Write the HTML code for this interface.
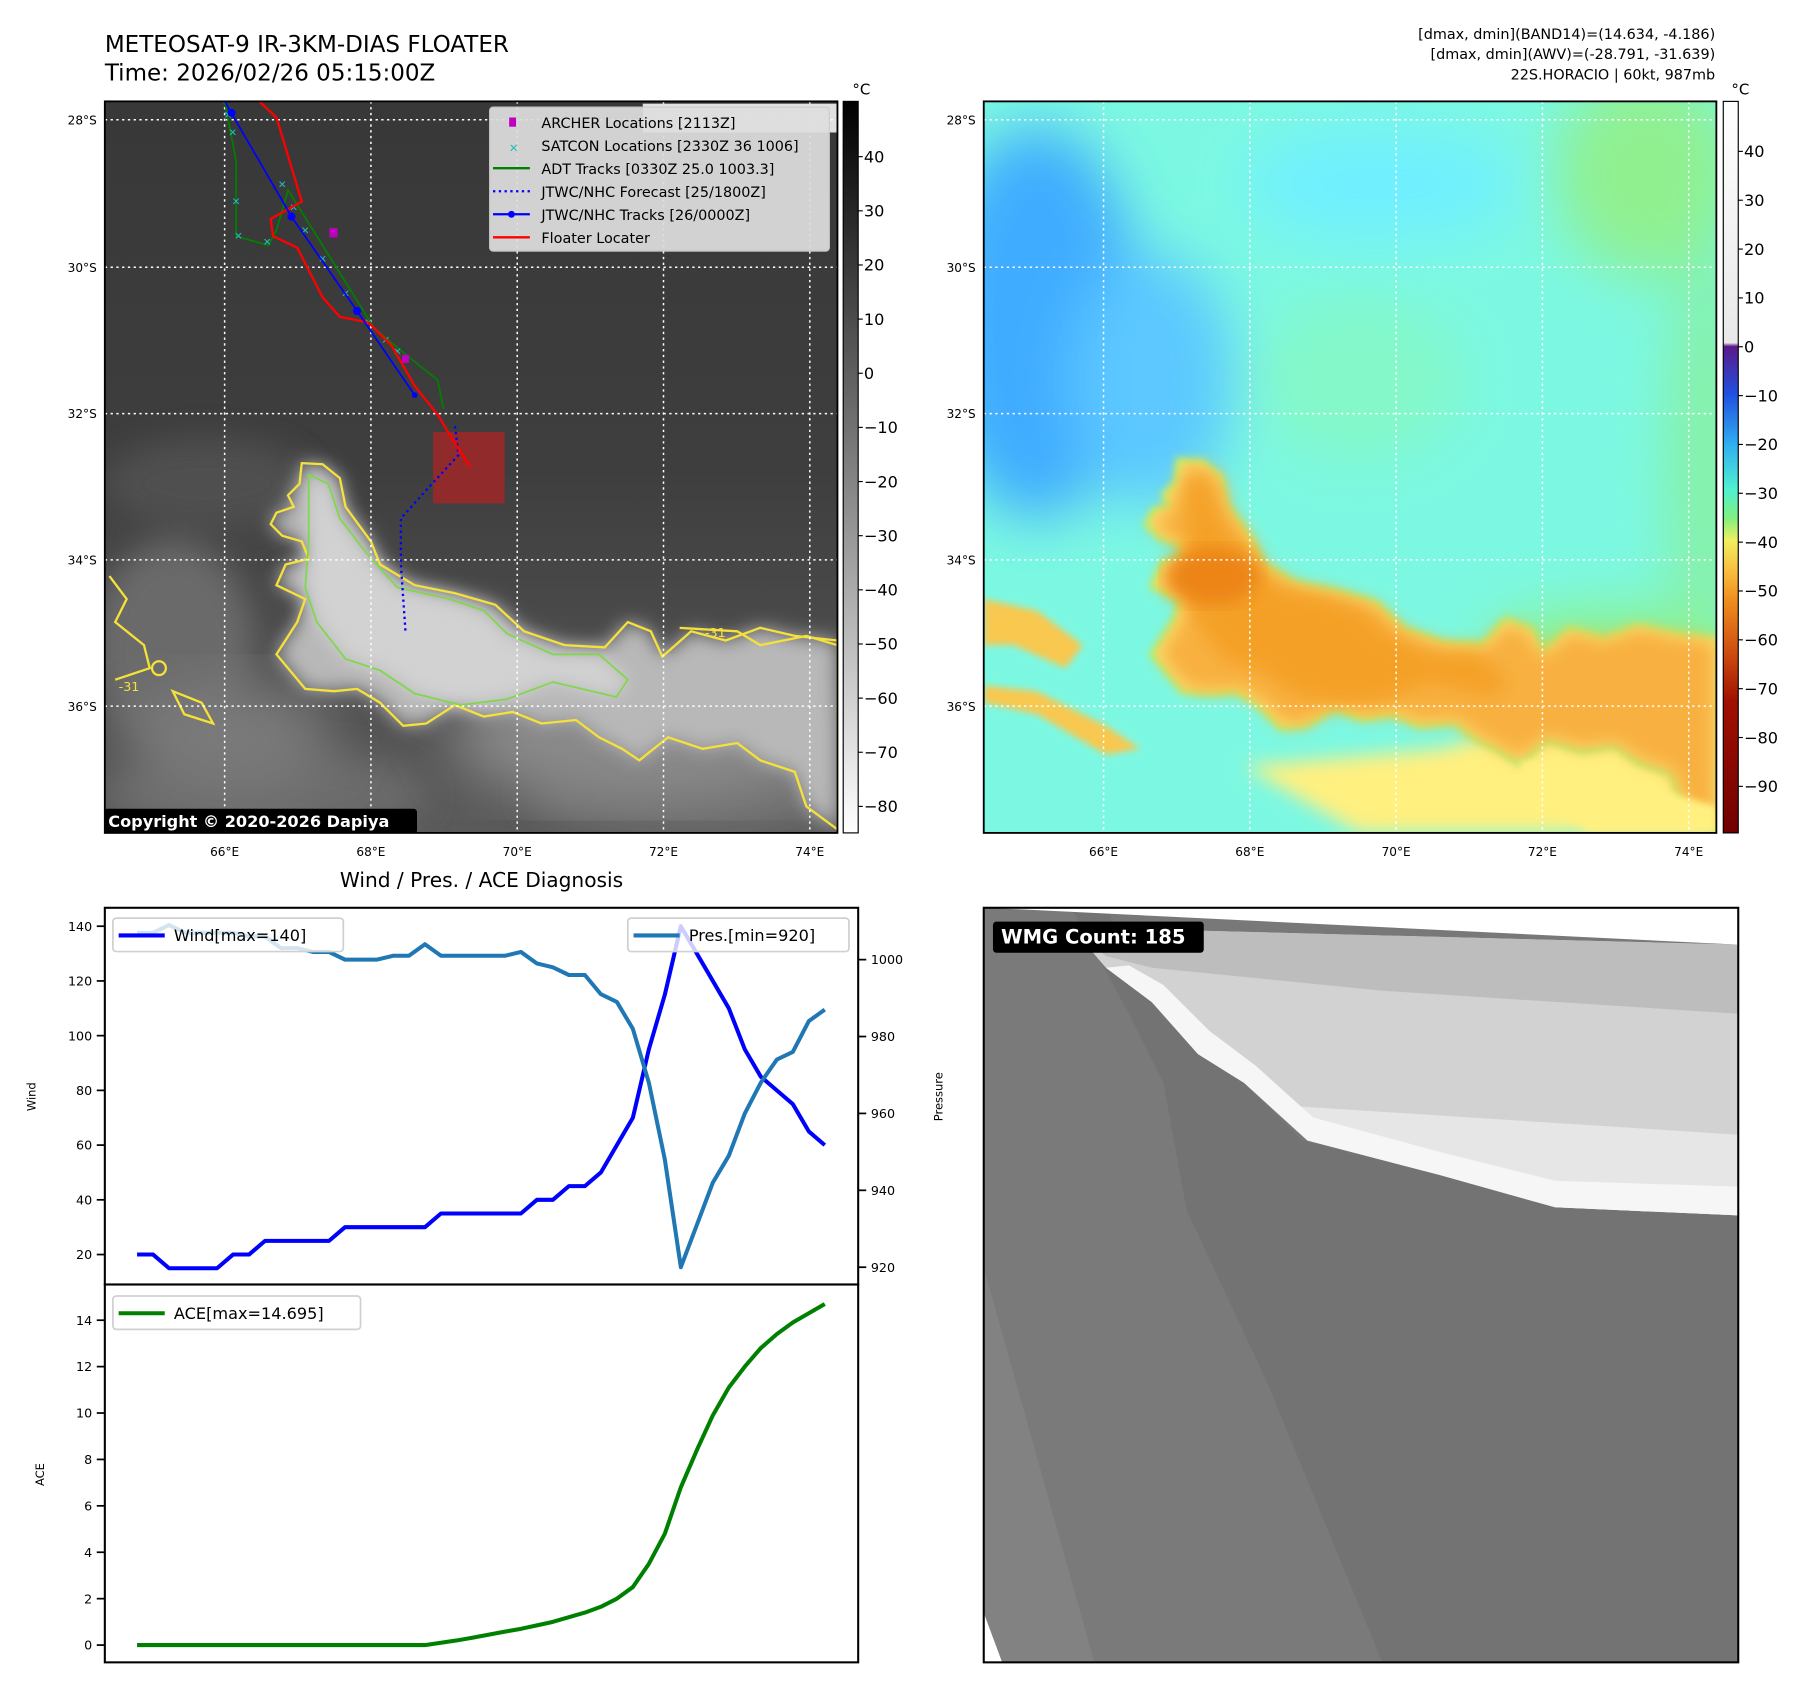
<!DOCTYPE html>
<html><head><meta charset="utf-8"><style>
html,body{margin:0;padding:0;background:#fff;}
svg{display:block;font-family:"DejaVu Sans","Liberation Sans",sans-serif;}
</style></head><body>
<svg id="fig" width="1797" height="1690" viewBox="0 0 1560 1467" preserveAspectRatio="none">
<defs>
<filter id="blur3"><feGaussianBlur stdDeviation="3"/></filter>
<filter id="blur8"><feGaussianBlur stdDeviation="8"/></filter>
<filter id="blur14"><feGaussianBlur stdDeviation="14"/></filter>
<filter id="blur25"><feGaussianBlur stdDeviation="25"/></filter>
<linearGradient id="cb1" x1="0" y1="0" x2="0" y2="1"><stop offset="0" stop-color="#000"/><stop offset="1" stop-color="#fff"/></linearGradient>
<linearGradient id="cb2" x1="0" y1="0" x2="0" y2="1">
<stop offset="0" stop-color="#ffffff"/><stop offset="0.33" stop-color="#e8e8e8"/>
<stop offset="0.335" stop-color="#5a1a8a"/><stop offset="0.40" stop-color="#2050e0"/>
<stop offset="0.47" stop-color="#30b0f0"/><stop offset="0.53" stop-color="#50f0d0"/>
<stop offset="0.57" stop-color="#80f080"/><stop offset="0.60" stop-color="#f0f060"/>
<stop offset="0.64" stop-color="#f8c040"/><stop offset="0.68" stop-color="#f09020"/>
<stop offset="0.75" stop-color="#d05010"/><stop offset="0.82" stop-color="#a01000"/>
<stop offset="1" stop-color="#700000"/></linearGradient>
<linearGradient id="bgL" x1="0" y1="0" x2="0" y2="1"><stop offset="0" stop-color="#383838"/><stop offset="0.5" stop-color="#3e3e3e"/><stop offset="1" stop-color="#5a5a5a"/></linearGradient>
<clipPath id="clipL"><rect x="91" y="88" width="636" height="635"/></clipPath>
<clipPath id="clipR"><rect x="854" y="88" width="636" height="635"/></clipPath>
<clipPath id="clipB"><rect x="854" y="788" width="655" height="655"/></clipPath>
<path id="cloud" d="M262,402 L280,403 L295,415 L300,440 L322,470 L330,490 L360,508 L395,515 L430,525 L455,548 L490,560 L525,562 L545,540 L565,548 L575,570 L600,548 L630,556 L660,545 L690,552 L727,556 L727,720 L700,700 L690,670 L660,660 L640,645 L610,650 L580,640 L555,660 L540,650 L520,640 L500,625 L470,628 L445,618 L420,622 L395,612 L370,628 L350,630 L330,610 L310,598 L290,600 L265,598 L250,580 L240,568 L258,540 L265,520 L240,508 L248,490 L268,485 L262,470 L245,465 L235,455 L240,445 L255,440 L250,430 L260,420 Z"/>
<path id="cloudIn" d="M268,412 L285,420 L295,450 L318,480 L345,510 L390,520 L420,530 L440,550 L480,568 L520,568 L545,590 L535,605 L480,592 L440,607 L400,612 L360,602 L330,582 L300,572 L275,540 L265,510 L268,470 Z"/>
</defs>

<text x="91" y="45" font-size="20">METEOSAT-9 IR-3KM-DIAS FLOATER</text>
<text x="91" y="70" font-size="20">Time: 2026/02/26 05:15:00Z</text>
<g font-size="12.5" text-anchor="end">
<text x="1489" y="34">[dmax, dmin](BAND14)=(14.634, -4.186)</text>
<text x="1489" y="51">[dmax, dmin](AWV)=(-28.791, -31.639)</text>
<text x="1489" y="69">22S.HORACIO | 60kt, 987mb</text>
</g>

<g clip-path="url(#clipL)">
<rect x="91" y="88" width="636" height="635" fill="url(#bgL)"/>
<g filter="url(#blur14)" fill="#6a6a6a">
<ellipse cx="150" cy="560" rx="70" ry="90"/><ellipse cx="230" cy="690" rx="140" ry="40"/><ellipse cx="600" cy="690" rx="140" ry="40"/>
<ellipse cx="180" cy="420" rx="90" ry="40" fill="#505050"/>
</g>
<g filter="url(#blur25)" fill="#8a8a8a">
<ellipse cx="560" cy="640" rx="170" ry="60"/><ellipse cx="200" cy="640" rx="90" ry="50" fill="#7a7a7a"/>
</g>
<use href="#cloud" fill="#b8b8b8" filter="url(#blur8)"/>
<use href="#cloudIn" fill="#d2d2d2" filter="url(#blur8)"/>
<use href="#cloud" fill="none" stroke="#f5e13a" stroke-width="2"/>
<use href="#cloudIn" fill="none" stroke="#7fd84a" stroke-width="1.5"/>
<g fill="none" stroke="#f5e13a" stroke-width="2">
<path d="M95,500 L110,520 L100,540 L125,560 L130,580 L100,590"/>
<path d="M150,600 L175,610 L185,628 L160,620 Z"/>
<circle cx="138" cy="580" r="6"/>
<path d="M590,545 L640,548 L660,560 L700,552 L727,560"/>
</g>
<text x="103" y="600" font-size="11" fill="#f5e13a">-31</text>
<text x="612" y="553" font-size="11" fill="#f5e13a">-31</text>
<g stroke="#fff" stroke-width="1.3" stroke-dasharray="2,3">
<line x1="195" y1="88" x2="195" y2="723"/><line x1="322" y1="88" x2="322" y2="723"/><line x1="449" y1="88" x2="449" y2="723"/><line x1="576" y1="88" x2="576" y2="723"/><line x1="703" y1="88" x2="703" y2="723"/>
<line x1="91" y1="104" x2="727" y2="104"/><line x1="91" y1="232" x2="727" y2="232"/><line x1="91" y1="359" x2="727" y2="359"/><line x1="91" y1="486" x2="727" y2="486"/><line x1="91" y1="613" x2="727" y2="613"/>
</g>
<rect x="376" y="375" width="62" height="62" fill="#a02828" opacity="0.85"/>
<polyline points="395,370 398,395 375,420 348,450 348,490 352,548" fill="none" stroke="#0000ff" stroke-width="2" stroke-dasharray="2,3"/>
<polyline points="195,88 205,140 205,205 233,213 240,200 250,165 325,285 355,310 380,330 385,355" fill="none" stroke="#008000" stroke-width="1.5"/>
<g fill="#1fc0c0" font-size="9" text-anchor="middle">
<text x="198" y="103">✕</text><text x="202" y="118">✕</text><text x="205" y="178">✕</text><text x="207" y="208">✕</text><text x="232" y="213">✕</text><text x="245" y="163">✕</text><text x="255" y="183">✕</text><text x="265" y="203">✕</text><text x="280" y="228">✕</text><text x="300" y="258">✕</text><text x="320" y="283">✕</text><text x="335" y="298">✕</text><text x="345" y="308">✕</text>
</g>
<polyline points="225,88 240,102 262,175 235,190 237,205 258,215 280,258 295,275 320,280 340,300 360,335 380,360 395,385 408,405" fill="none" stroke="#ff0000" stroke-width="2"/>
<polyline points="195,88 253,188 310,270 360,343" fill="none" stroke="#0000ff" stroke-width="1.5"/>
<g fill="#0000ff"><circle cx="201" cy="98" r="3.5"/><circle cx="253" cy="188" r="3.5"/><circle cx="310" cy="270" r="3.5"/><circle cx="360" cy="343" r="2.5"/></g>
<rect x="286" y="198" width="7" height="8" fill="#c000c0"/>
<rect x="349" y="308" width="6" height="7" fill="#c000c0"/>
<rect x="558" y="90" width="169" height="25" fill="#fff" opacity="0.85"/>
<text x="565" y="108" font-size="14" font-weight="bold" fill="#d8d8d8">© EUMETSAT 2026</text>
<g>
<rect x="425" y="93" width="295" height="125" rx="3" fill="#dedede" opacity="0.93" stroke="#ccc"/>
<g font-size="12.5">
<rect x="442" y="102" width="6" height="8" fill="#c000c0"/><text x="470" y="111">ARCHER Locations [2113Z]</text>
<text x="446" y="132" fill="#1fc0c0" font-size="10" text-anchor="middle">✕</text><text x="470" y="131">SATCON Locations [2330Z 36 1006]</text>
<line x1="428" y1="146" x2="460" y2="146" stroke="#008000" stroke-width="2"/><text x="470" y="151">ADT Tracks [0330Z 25.0 1003.3]</text>
<line x1="428" y1="166" x2="460" y2="166" stroke="#0000ff" stroke-width="2" stroke-dasharray="2,3"/><text x="470" y="171">JTWC/NHC Forecast [25/1800Z]</text>
<line x1="428" y1="186" x2="460" y2="186" stroke="#0000ff" stroke-width="2"/><circle cx="444" cy="186" r="3" fill="#0000ff"/><text x="470" y="191">JTWC/NHC Tracks [26/0000Z]</text>
<line x1="428" y1="206" x2="460" y2="206" stroke="#ff0000" stroke-width="2"/><text x="470" y="211">Floater Locater</text>
</g></g>
<rect x="90" y="702" width="272" height="22" rx="3" fill="#000"/>
<text x="94" y="718" font-size="14" font-weight="bold" fill="#fff">Copyright © 2020-2026 Dapiya</text>
</g>
<rect x="91" y="88" width="636" height="635" fill="none" stroke="#000" stroke-width="1.6"/>

<g clip-path="url(#clipR)">
<rect x="854" y="88" width="636" height="635" fill="#7cf8e2"/>
<g filter="url(#blur25)">
<ellipse cx="900" cy="280" rx="90" ry="170" fill="#40acff"/>
<ellipse cx="1000" cy="330" rx="70" ry="110" fill="#5cc8ff"/>
<ellipse cx="1200" cy="160" rx="120" ry="50" fill="#70f0ff"/>
<ellipse cx="1430" cy="150" rx="80" ry="90" fill="#90f090"/>
<ellipse cx="1480" cy="400" rx="30" ry="200" fill="#88f0a0"/>
<ellipse cx="1400" cy="570" rx="110" ry="40" fill="#90f080"/>
<ellipse cx="1180" cy="330" rx="90" ry="70" fill="#84f8c8"/>
</g>
<g filter="url(#blur8)" fill="#fff080">
<polygon points="1080,665 1250,650 1400,610 1490,600 1490,723 1180,723"/>
</g>
<g transform="translate(763,0)">
<use href="#cloud" fill="#a8f080" stroke="#b8f070" stroke-width="10" filter="url(#blur3)"/>
<use href="#cloud" fill="#fce070" filter="url(#blur3)"/>
<use href="#cloud" fill="#f8b040" filter="url(#blur8)" transform="translate(6,6) scale(0.99)"/>
<use href="#cloudIn" fill="#f4a028" filter="url(#blur8)"/>
<ellipse cx="290" cy="500" rx="40" ry="25" fill="#ec8418" filter="url(#blur8)"/>
</g>
<g filter="url(#blur3)" fill="#f8c850">
<path d="M854,520 L900,530 L940,560 L925,580 L880,560 L854,560 Z"/>
<path d="M854,595 L900,600 L960,630 L990,650 L960,655 L900,620 L854,610 Z"/>
<path d="M1320,660 L1420,680 L1490,700 L1490,723 L1380,723 L1330,690 Z" fill="#fff080"/>
</g>
<g stroke="#fff" stroke-width="1.3" stroke-dasharray="2,3">
<line x1="958" y1="88" x2="958" y2="723"/><line x1="1085" y1="88" x2="1085" y2="723"/><line x1="1212" y1="88" x2="1212" y2="723"/><line x1="1339" y1="88" x2="1339" y2="723"/><line x1="1466" y1="88" x2="1466" y2="723"/>
<line x1="854" y1="104" x2="1490" y2="104"/><line x1="854" y1="232" x2="1490" y2="232"/><line x1="854" y1="359" x2="1490" y2="359"/><line x1="854" y1="486" x2="1490" y2="486"/><line x1="854" y1="613" x2="1490" y2="613"/>
</g>
</g>
<rect x="854" y="88" width="636" height="635" fill="none" stroke="#000" stroke-width="1.6"/>

<g font-size="10.5" text-anchor="end">
<text x="84" y="108">28°S</text><text x="84" y="236">30°S</text><text x="84" y="363">32°S</text><text x="84" y="490">34°S</text><text x="84" y="617">36°S</text>
<text x="847" y="108">28°S</text><text x="847" y="236">30°S</text><text x="847" y="363">32°S</text><text x="847" y="490">34°S</text><text x="847" y="617">36°S</text>
</g>
<g font-size="10.5" text-anchor="middle">
<text x="195" y="743">66°E</text><text x="322" y="743">68°E</text><text x="449" y="743">70°E</text><text x="576" y="743">72°E</text><text x="703" y="743">74°E</text>
<text x="958" y="743">66°E</text><text x="1085" y="743">68°E</text><text x="1212" y="743">70°E</text><text x="1339" y="743">72°E</text><text x="1466" y="743">74°E</text>
</g>

<g>
<rect x="732" y="88" width="13" height="635" fill="url(#cb1)" stroke="#000" stroke-width="1"/>
<text x="740" y="82" font-size="13">°C</text>
<g id="cb1ticks" font-size="14"></g>
</g>
<g>
<rect x="1496" y="88" width="13" height="635" fill="url(#cb2)" stroke="#000" stroke-width="1"/>
<text x="1503" y="82" font-size="13">°C</text>
<g id="cb2ticks" font-size="14"></g>
</g>

<text x="418" y="770" font-size="17.5" text-anchor="middle">Wind / Pres. / ACE Diagnosis</text>
<g id="diag"></g>
<rect x="91" y="788" width="654" height="327" fill="none" stroke="#000" stroke-width="1.8"/>
<rect x="91" y="1115" width="654" height="328" fill="none" stroke="#000" stroke-width="1.8"/>
<text transform="translate(31,952) rotate(-90)" font-size="10" text-anchor="middle">Wind</text>
<text transform="translate(818,952) rotate(-90)" font-size="10" text-anchor="middle">Pressure</text>
<text transform="translate(38,1280) rotate(-90)" font-size="10" text-anchor="middle">ACE</text>

<g clip-path="url(#clipB)">
<rect x="854" y="788" width="655" height="655" fill="#787878"/>
<polygon points="854,788 960,788 1000,870 1040,915 1080,940 1130,990 1250,1020 1350,1048 1509,1055 1509,1443 854,1443" fill="#737373"/>
<polygon points="854,788 930,788 980,880 1010,940 1030,1050 1100,1200 1200,1443 854,1443" fill="#7a7a7a"/>
<polygon points="854,1100 950,1443 854,1443" fill="#828282"/>
<polygon points="930,805 1509,820 1509,1055 1350,1048 1250,1020 1135,990 1080,940 1040,915 1000,870 960,840" fill="#d2d2d2"/>
<polygon points="930,805 1509,820 1509,880 1200,860 1000,840 960,830" fill="#bdbdbd"/>
<polygon points="1120,960 1509,985 1509,1055 1350,1048 1250,1020 1135,990" fill="#e6e6e6"/>
<polygon points="960,840 1000,870 1040,915 1080,940 1135,990 1250,1020 1350,1048 1509,1055 1509,1030 1350,1025 1250,1000 1140,970 1090,925 1050,895 1010,855 980,838" fill="#f6f6f6"/>
<polygon points="854,788 1509,788 1509,820 900,790" fill="#fff"/>
<polygon points="854,1400 870,1443 854,1443" fill="#fff"/>
</g>
<rect x="854" y="788" width="655" height="655" fill="none" stroke="#000" stroke-width="1.8"/>
<rect x="862" y="800" width="183" height="27" rx="3" fill="#000"/>
<text x="869" y="819" font-size="17" font-weight="bold" fill="#fff">WMG Count: 185</text>
</svg>

<script>
const windValues = [20,20,15,15,15,15,20,20,25,25,25,25,25,30,30,30,30,30,30,35,35,35,35,35,35,40,40,45,45,50,60,70,95,115,140,130,120,110,95,85,80,75,65,60];
const presValues = [1007,1007,1009,1007,1007,1007,1007,1006,1006,1003,1003,1002,1002,1000,1000,1000,1001,1001,1004,1001,1001,1001,1001,1001,1002,999,998,996,996,991,989,982,968,948,920,931,942,949,960,968,974,976,984,987];
const aceValues = [0,0,0,0,0,0,0,0,0,0,0,0,0,0,0,0,0,0,0,0.1,0.2,0.32,0.45,0.58,0.7,0.85,1.0,1.2,1.4,1.65,2.0,2.5,3.5,4.8,6.8,8.4,9.9,11.1,12.0,12.8,13.4,13.9,14.3,14.7];
const windTicks = [20,40,60,80,100,120,140];
const presTicks = [920,940,960,980,1000];
const aceTicks = [0,2,4,6,8,10,12,14];
const irCbTicks = [40,30,20,10,0,-10,-20,-30,-40,-50,-60,-70,-80];
const awvCbTicks = [40,30,20,10,0,-10,-20,-30,-40,-50,-60,-70,-80,-90];

const NS = 'http://www.w3.org/2000/svg';
function mk(tag, attrs, parent){const e=document.createElementNS(NS,tag);for(const k in attrs)e.setAttribute(k,attrs[k]);parent.appendChild(e);return e;}
const xS = i => 119 + i*(716-119)/(windValues.length-1);
const yW = v => 1089 - (v-20)*(1089-804)/120;
const yP = p => 1100 - (p-920)*(1100-833)/80;
const yA = a => 1428 - a*(1428-1146)/14;
const yCb1 = v => 324 - v*4.7;
const yCb2 = v => 301 - v*4.24;

const diag = document.getElementById('diag');
windTicks.forEach(v=>{
  mk('line',{x1:84,x2:91,y1:yW(v),y2:yW(v),stroke:'#000','stroke-width':1.5},diag);
  const t=mk('text',{x:80,y:yW(v)+4,'font-size':11,'text-anchor':'end'},diag);t.textContent=v;
  
  
});
presTicks.forEach(v=>{
  mk('line',{x1:745,x2:752,y1:yP(v),y2:yP(v),stroke:'#000','stroke-width':1.5},diag);
  const t=mk('text',{x:756,y:yP(v)+4,'font-size':11},diag);t.textContent=v;
  
  
});
aceTicks.forEach(v=>{
  mk('line',{x1:84,x2:91,y1:yA(v),y2:yA(v),stroke:'#000','stroke-width':1.5},diag);
  const t=mk('text',{x:80,y:yA(v)+4,'font-size':11,'text-anchor':'end'},diag);t.textContent=v;
  
  
});
const wl=mk('polyline',{points:windValues.map((v,i)=>xS(i)+','+yW(v)).join(' '),fill:'none',stroke:'#0000ff','stroke-width':3.5,'stroke-linejoin':'round'},diag);


const pl=mk('polyline',{points:presValues.map((v,i)=>xS(i)+','+yP(v)).join(' '),fill:'none',stroke:'#1f77b4','stroke-width':3.5,'stroke-linejoin':'round'},diag);


const al=mk('polyline',{points:aceValues.map((v,i)=>xS(i)+','+yA(v)).join(' '),fill:'none',stroke:'#008000','stroke-width':3.5,'stroke-linejoin':'round'},diag);


function legend(x,y,w,color,label,name){
  const g=mk('g',{},diag);
  
  
  mk('rect',{x:x,y:y,width:w,height:29,rx:3,fill:'#fff','fill-opacity':0.8,stroke:'#d0d0d0','stroke-width':1.5},g);
  mk('line',{x1:x+5,x2:x+45,y1:y+15,y2:y+15,stroke:color,'stroke-width':3.5},g);
  const t=mk('text',{x:x+53,y:y+20,'font-size':14},g);t.textContent=label;
}
legend(98,797,200,'#0000ff','Wind[max='+Math.max(...windValues)+']','wind-legend');
legend(545,797,192,'#1f77b4','Pres.[min='+Math.min(...presValues)+']','pressure-legend');
legend(98,1125,215,'#008000','ACE[max=14.695]','ace-legend');
const c1=document.getElementById('cb1ticks');
irCbTicks.forEach(v=>{
  mk('line',{x1:745,x2:749,y1:yCb1(v),y2:yCb1(v),stroke:'#000'},c1);
  const t=mk('text',{x:750,y:yCb1(v)+5},c1);t.textContent=v<0?'\u2212'+(-v):v;
  
  
});
const c2=document.getElementById('cb2ticks');
awvCbTicks.forEach(v=>{
  mk('line',{x1:1509,x2:1513,y1:yCb2(v),y2:yCb2(v),stroke:'#000'},c2);
  const t=mk('text',{x:1514,y:yCb2(v)+5},c2);t.textContent=v<0?'\u2212'+(-v):v;
  
  
});
</script>
</body></html>
